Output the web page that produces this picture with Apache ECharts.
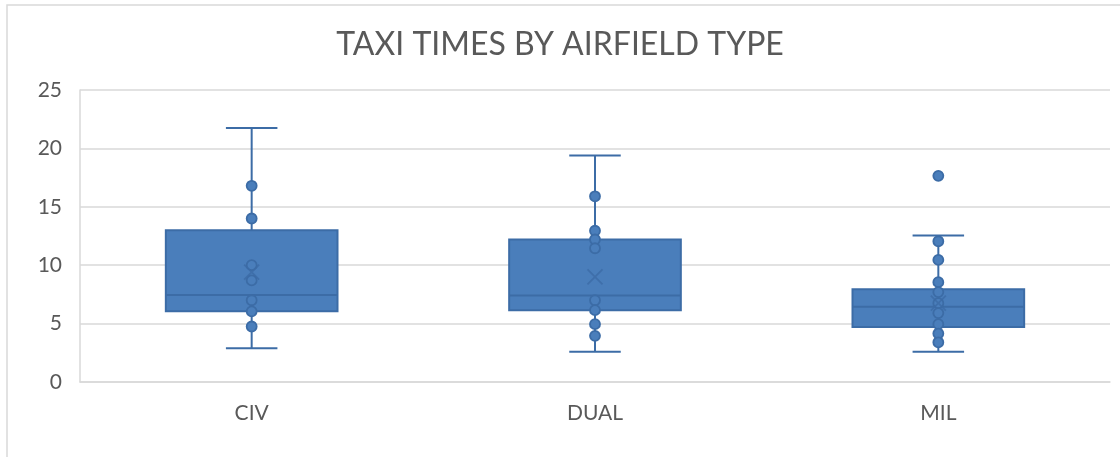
<!DOCTYPE html>
<html>
<head>
<meta charset="utf-8">
<script src="https://cdn.jsdelivr.net/npm/echarts@6/dist/echarts.min.js"></script>
<style>
  html, body { margin: 0; padding: 0; background: #fff; }
  #chart { width: 1120px; height: 457px; }
</style>
</head>
<body>
<div id="chart"></div>
<script>
// categories and box statistics
var categories = ['CIV', 'DUAL', 'MIL'];
var whiskerLow = [2.9, 2.6, 2.6];
var q1 = [6.05, 6.15, 4.7];
var median = [7.45, 7.4, 6.45];
var q3 = [13.0, 12.2, 7.95];
var whiskerHigh = [21.75, 19.4, 12.55];
var means = [9.4, 9.0, 6.75];

// individual points (inner points + outliers)
var civPoints = [16.8, 14.0, 10.0, 8.7, 7.0, 6.05, 4.75];
var dualPoints = [15.9, 12.95, 12.2, 11.45, 7.0, 6.15, 4.95, 3.95];
var milPoints = [17.65, 12.05, 10.45, 8.55, 7.7, 6.75, 5.9, 4.95, 4.15, 3.4];

var boxFill = '#4a7ebb';
var boxLine = '#3c6ca6';

var boxData = categories.map(function (c, i) {
    return [i, whiskerLow[i], q1[i], median[i], q3[i], whiskerHigh[i]];
});

var pointData = [];
[civPoints, dualPoints, milPoints].forEach(function (arr, i) {
    arr.forEach(function (v) { pointData.push([i, v]); });
});
var meanData = means.map(function (v, i) { return [i, v]; });

// box + whiskers drawn through the axes' coords
function renderBox(params, api) {
    var x = api.value(0);
    var band = api.size([1, 0])[0];
    var bw = band * 0.5;
    var cw = band * 0.15;
    var pLow = api.coord([x, api.value(1)]);
    var pQ1 = api.coord([x, api.value(2)]);
    var pMed = api.coord([x, api.value(3)]);
    var pQ3 = api.coord([x, api.value(4)]);
    var pHigh = api.coord([x, api.value(5)]);
    var cx = pQ1[0];
    var lineStyle = { stroke: boxLine, lineWidth: 2, fill: null };
    return {
        type: 'group',
        children: [
            { type: 'line', shape: { x1: cx, y1: pQ3[1], x2: cx, y2: pHigh[1] }, style: lineStyle },
            { type: 'line', shape: { x1: cx, y1: pQ1[1], x2: cx, y2: pLow[1] }, style: lineStyle },
            { type: 'line', shape: { x1: cx - cw / 2, y1: pHigh[1], x2: cx + cw / 2, y2: pHigh[1] }, style: lineStyle },
            { type: 'line', shape: { x1: cx - cw / 2, y1: pLow[1], x2: cx + cw / 2, y2: pLow[1] }, style: lineStyle },
            { type: 'rect', shape: { x: cx - bw / 2, y: pQ3[1], width: bw, height: pQ1[1] - pQ3[1] },
              style: { fill: boxFill, stroke: boxLine, lineWidth: 2 } },
            { type: 'line', shape: { x1: cx - bw / 2, y1: pMed[1], x2: cx + bw / 2, y2: pMed[1] }, style: lineStyle }
        ]
    };
}

var myChart = echarts.init(document.getElementById('chart'));
var option = {
    animation: false,
    title: {
        text: 'TAXI TIMES BY AIRFIELD TYPE',
        left: 'center',
        top: 24,
        textStyle: { fontFamily: 'Lato', fontWeight: 'normal', fontSize: 32, color: '#595959' }
    },
    graphic: [
        { type: 'rect', shape: { x: 7, y: 5, width: 1200, height: 600 },
          style: { fill: null, stroke: '#d9d9d9', lineWidth: 1.5 }, silent: true }
    ],
    grid: { left: 80, right: 10, top: 90, bottom: 75 },
    xAxis: {
        type: 'category',
        data: categories,
        axisTick: { show: false },
        axisLine: { lineStyle: { color: '#d9d9d9', width: 1.5 } },
        axisLabel: { color: '#595959', fontSize: 21, fontFamily: 'Lato', margin: 21 }
    },
    yAxis: {
        type: 'value',
        min: 0,
        max: 25,
        interval: 5,
        axisLine: { show: true, lineStyle: { color: '#d9d9d9', width: 1.5 } },
        axisTick: { show: false },
        splitLine: { lineStyle: { color: '#d9d9d9', width: 1.5 } },
        axisLabel: { color: '#595959', fontSize: 21, fontFamily: 'Lato', margin: 18 }
    },
    series: [
        {
            type: 'custom',
            renderItem: renderBox,
            encode: { x: 0, y: [1, 2, 3, 4, 5] },
            data: boxData,
            z: 2
        },
        {
            type: 'scatter',
            data: pointData,
            symbol: 'circle',
            symbolSize: 10,
            itemStyle: { color: boxFill, borderColor: boxLine, borderWidth: 1.8, opacity: 1 },
            z: 3
        },
        {
            type: 'scatter',
            data: meanData,
            symbol: 'path://M0,0L10,10M10,0L0,10',
            symbolSize: 15,
            itemStyle: { color: 'none', borderColor: boxLine, borderWidth: 1.8 },
            z: 4
        }
    ]
};
myChart.setOption(option);
</script>
</body>
</html>
